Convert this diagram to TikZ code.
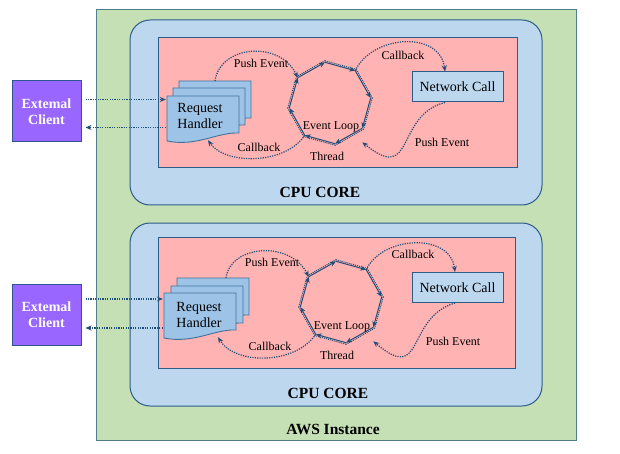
\documentclass[tikz,border=0pt]{standalone}
\usepackage{fontspec}
\setmainfont{Liberation Serif}
\newfontfamily\lserif{Liberation Serif}
\usetikzlibrary{arrows.meta}
\definecolor{awsgreen}{HTML}{C5E0B4}
\definecolor{awsborder}{HTML}{4F7F8C}
\definecolor{coreblue}{HTML}{BDD7EE}
\definecolor{coreborder}{HTML}{2E5C8A}
\definecolor{pinkbg}{HTML}{FFB3B3}
\definecolor{docfill}{HTML}{9DC3E6}
\definecolor{docborder}{HTML}{41719C}
\definecolor{clientfill}{HTML}{9966FF}
\definecolor{clientborder}{HTML}{2F5597}
\definecolor{arrowc}{HTML}{1F4E79}
\newcommand{\docshape}[2]{\draw[docsty] (#1,#2) -- (#1+72,#2) -- (#1+72,#2+37) .. controls (#1+50,#2+36) and (#1+30,#2+51) .. (#1,#2+45) -- cycle;}
\tikzset{
 awsbox/.style={fill=awsgreen, draw=awsborder, line width=1pt},
 corebox/.style={fill=coreblue, draw=coreborder, line width=1pt, rounded corners=20pt},
 pinkbox/.style={fill=pinkbg, draw=coreborder, line width=1pt},
 docsty/.style={fill=docfill, draw=docborder, line width=0.9pt},
 handler/.style={minimum width=72pt, minimum height=46pt, inner sep=0pt},
 htext/.style={font=\lserif\fontsize{14}{16}\selectfont, align=left, inner sep=0pt},
 clientbox/.style={fill=clientfill, draw=clientborder, line width=1pt, minimum width=69pt, minimum height=61pt, text=white, font=\lserif\fontsize{14}{16}\selectfont\bfseries, align=center, inner sep=0pt},
 netbox/.style={fill=coreblue, draw=coreborder, line width=1pt, minimum width=91pt, minimum height=30pt, inner sep=0pt, font=\lserif\fontsize{14}{16}\selectfont},
 lbl/.style={font=\lserif\fontsize{12}{14}\selectfont, inner sep=0pt},
 titlelbl/.style={font=\lserif\fontsize{15.5}{18}\selectfont\bfseries, inner sep=0pt},
 flow/.style={draw=arrowc, line width=1.2pt, dash pattern=on 1.2pt off 1.2pt, -{Stealth[length=6pt,width=5pt]}},
 loopedge/.style={draw=arrowc, line width=1pt, -{Stealth[length=6pt,width=5pt]}},
 loopdots/.style={draw=arrowc, line width=1pt, dash pattern=on 1pt off 1pt},
}
\begin{document}
\begin{tikzpicture}[x=1pt,y=-1pt]
\useasboundingbox (0,0) rectangle (620,454);
\fill[white] (0,0) rectangle (620,454);
% containers
\draw[awsbox] (96,10) rectangle (576,440);
\draw[corebox] (130,20) rectangle (542,205);
\draw[corebox] (130,223) rectangle (542,406);
\draw[pinkbox] (158,38) rectangle (517,168);
\draw[pinkbox] (158,237) rectangle (515,368);
\node[titlelbl] (t1) at (320,192) {CPU CORE};
\node[titlelbl] (t2) at (328,393) {CPU CORE};
\node[titlelbl] (t3) at (333,429) {AWS Instance};
% clients
\node[clientbox] (c1) at (46.5,111.5) {Extemal\\Client};
\node[clientbox] (c2) at (46.5,314.5) {Extemal\\Client};
% handlers panel 1
\docshape{179}{81}
\docshape{173}{88}
\docshape{167}{96}
\node[handler] (h1) at (203,119) {};
\node[htext] (h1t) at (200,116) {Request\\Handler};
\coordinate (h1top) at (215,81);
% handlers panel 2
\docshape{177}{278}
\docshape{171}{286}
\docshape{164}{293}
\node[handler] (h2) at (200,316) {};
\node[htext] (h2t) at (199,315) {Request\\Handler};
\coordinate (h2top) at (226,278);
% network calls
\node[netbox] (n1) at (457.5,87) {Network Call};
\node[netbox] (n2) at (457.5,287.5) {Network Call};
% event loops
\coordinate (L1) at (330,103);
\coordinate (L2) at (341,302);
\foreach \L in {L1,L2}{
 \foreach \i/\a in {1/-142,2/-97,3/-52,4/-7,5/38,6/83,7/128,8/173}{
  \path (\L) ++(\a:41) coordinate (\L v\i);
  \path (\L) ++(\a:42.6) coordinate (\L o\i);
 }
 \foreach \i/\j in {1/2,2/3,3/4,4/5,5/6,6/7,7/8,8/1}{
  \draw[loopdots] (\L o\i) -- (\L o\j);
  \draw[loopedge] (\L v\i) -- (\L v\j);
 }
}
% labels panel 1
\node[lbl] (p1a) at (261,63) {Push Event};
\node[lbl] (p1b) at (403,55) {Callback};
\node[lbl] (p1c) at (259,147) {Callback};
\node[lbl] (p1d) at (331,127) {Event Loop};
\node[lbl] (p1e) at (327,156) {Thread};
\node[lbl] (p1f) at (442,142) {Push Event};
% labels panel 2
\node[lbl] (p2a) at (272,262) {Push Event};
\node[lbl] (p2b) at (413,254) {Callback};
\node[lbl] (p2c) at (270,346) {Callback};
\node[lbl] (p2d) at (342,327) {Event Loop};
\node[lbl] (p2e) at (337,355) {Thread};
\node[lbl] (p2f) at (453,341) {Push Event};
% flows panel 1
\draw[flow] ([xshift=4pt,yshift=12pt]c1.east) -- ([xshift=-1pt,yshift=19.5pt]h1.west);
\draw[flow] ([xshift=-1pt,yshift=-8.5pt]h1.west) -- ([xshift=4pt,yshift=-16pt]c1.east);
\draw[flow] (h1top) .. controls (220,45) and (280,40) .. (L1v1);
\draw[flow] (L1v3) .. controls (372,35) and (440,30) .. ([xshift=-12.5pt]n1.north);
\draw[flow] ([xshift=-12.5pt]n1.south) .. controls (395,115) and (415,185) .. ([yshift=-14pt]L1v5);
\draw[flow] (L1v7) .. controls (285,165) and (225,165) .. ([xshift=5pt,yshift=2pt]h1.south);
% flows panel 2
\draw[flow] ([xshift=4pt,yshift=15.5pt]c2.east) -- ([xshift=-1pt,yshift=17pt]h2.west);
\draw[flow] ([xshift=-1pt,yshift=-12pt]h2.west) -- ([xshift=4pt,yshift=-13.5pt]c2.east);
\draw[flow] (h2top) .. controls (230,245) and (290,240) .. (L2v1);
\draw[flow] (L2v3) .. controls (382,236) and (450,232) .. ([xshift=-2.5pt]n2.north);
\draw[flow] ([xshift=-2.5pt]n2.south) .. controls (405,318) and (425,385) .. ([yshift=-14pt]L2v5);
\draw[flow] (L2v7) .. controls (295,365) and (235,365) .. ([xshift=18pt,yshift=2pt]h2.south);
\end{tikzpicture}
\end{document}
